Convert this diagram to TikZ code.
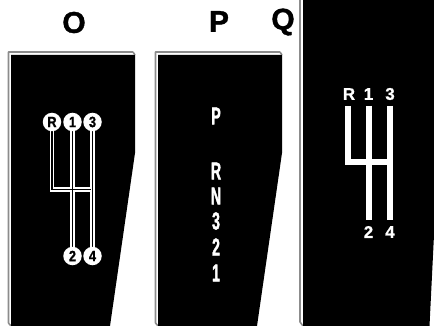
\documentclass[tikz,border=0pt]{standalone}
\usepackage{fontspec}
\setmainfont{Liberation Sans}
\newfontfamily\condfont[FakeStretch=0.58,FakeBold=1.5]{Liberation Sans Bold}
\newfontfamily\knobfont[FakeStretch=0.85,FakeBold=1]{Liberation Sans Bold}
\newfontfamily\titlefont[FakeBold=1.2]{Liberation Sans Bold}
\newfontfamily\qfont[FakeBold=0.8]{Liberation Sans Bold}
\tikzset{
  x=1pt,y=-1pt,
  panel/.style={fill=black,draw=none},
  bevel/.style={draw=black!45,line width=1.6pt,line join=round},
  title/.style={font=\fontsize{30}{30}\titlefont,inner sep=0pt,anchor=center},
  knob/.style={circle,fill=white,draw=none,minimum size=18.5pt,inner sep=0pt,font=\fontsize{15}{15}\knobfont,text=black},
  auto label/.style={text=white,inner sep=0pt,font=\fontsize{24.5}{24.5}\condfont},
  q label/.style={text=white,inner sep=0pt,font=\fontsize{17}{17}\qfont},
  rail/.style={draw=white,line width=4.6pt,line join=miter},
  railcore/.style={draw=black,line width=1.5pt,line join=miter},
  qbar/.style={draw=white,line width=6pt}
}
\begin{document}
\begin{tikzpicture}
\useasboundingbox (0,0) rectangle (434,326);
% titles
\node[title] (tO) at (74,22.5) {O};
\node[title] (tP) at (219,21.5) {P};
\node[title] (tQ) at (283,22) {Q};
% panel O
\draw[bevel] (133,52) -- (8.5,52) -- (8.5,323) -- (11,326);
\draw[bevel] (133,52) -- (135,55);
\fill[panel] (11,55) -- (135,55) -- (135,153) -- (110,326) -- (11,326) -- cycle;
% panel P
\draw[bevel] (280,52) -- (155.5,52) -- (155.5,323) -- (158,326);
\draw[bevel] (280,52) -- (282,55);
\fill[panel] (158,55) -- (282,55) -- (282,153) -- (257,326) -- (158,326) -- cycle;
% panel Q
\draw[bevel] (300,0) -- (300,322) -- (303,326);
\fill[panel] (303,0) -- (434,0) -- (434,235) -- (429.5,326) -- (303,326) -- cycle;
% pattern O
\coordinate (aR) at (52,122);
\coordinate (a1) at (72.5,122);
\coordinate (a3) at (92.5,122);
\coordinate (a2) at (72.5,256);
\coordinate (a4) at (92.5,256);
\coordinate (aL) at (52,189.5);
\coordinate (aC) at (92.5,189.5);
\coordinate (aE) at (90.6,189.5);
\draw[rail] (aR) -- (aL) -- (aC);
\draw[rail] (a1) -- (a2);
\draw[rail] (a3) -- (a4);
\draw[railcore] (aR) -- (aL) -- (aE);
\draw[railcore] (a1) -- (a2);
\draw[railcore] (a3) -- (a4);
\node[knob] (kR) at (aR) {R};
\node[knob] (k1) at (a1) {1};
\node[knob] (k3) at (a3) {3};
\node[knob] (k2) at (a2) {2};
\node[knob] (k4) at (a4) {4};
% labels P
\node[auto label] (lP) at (216,116) {P};
\node[auto label] (lR) at (216,171) {R};
\node[auto label] (lN) at (216,196) {N};
\node[auto label] (l3) at (216,221) {3};
\node[auto label] (l2) at (216,247) {2};
\node[auto label] (l1) at (216,273) {1};
% pattern Q
\coordinate (qR) at (347.5,106);
\coordinate (q1) at (368.5,106);
\coordinate (q3) at (390,106);
\coordinate (q2) at (368.5,220);
\coordinate (q4) at (390,220);
\coordinate (qL) at (347.5,162);
\coordinate (qC) at (390,162);
\draw[qbar,line join=miter] (qR) -- (qL) -- (qC);
\draw[qbar] (q1) -- (q2);
\draw[qbar] (q3) -- (q4);
\node[q label] (mR) at (349,94) {R};
\node[q label] (m1) at (368.5,94) {1};
\node[q label] (m3) at (390,94) {3};
\node[q label] (m2) at (368.5,232) {2};
\node[q label] (m4) at (390,232) {4};
\end{tikzpicture}
\end{document}
